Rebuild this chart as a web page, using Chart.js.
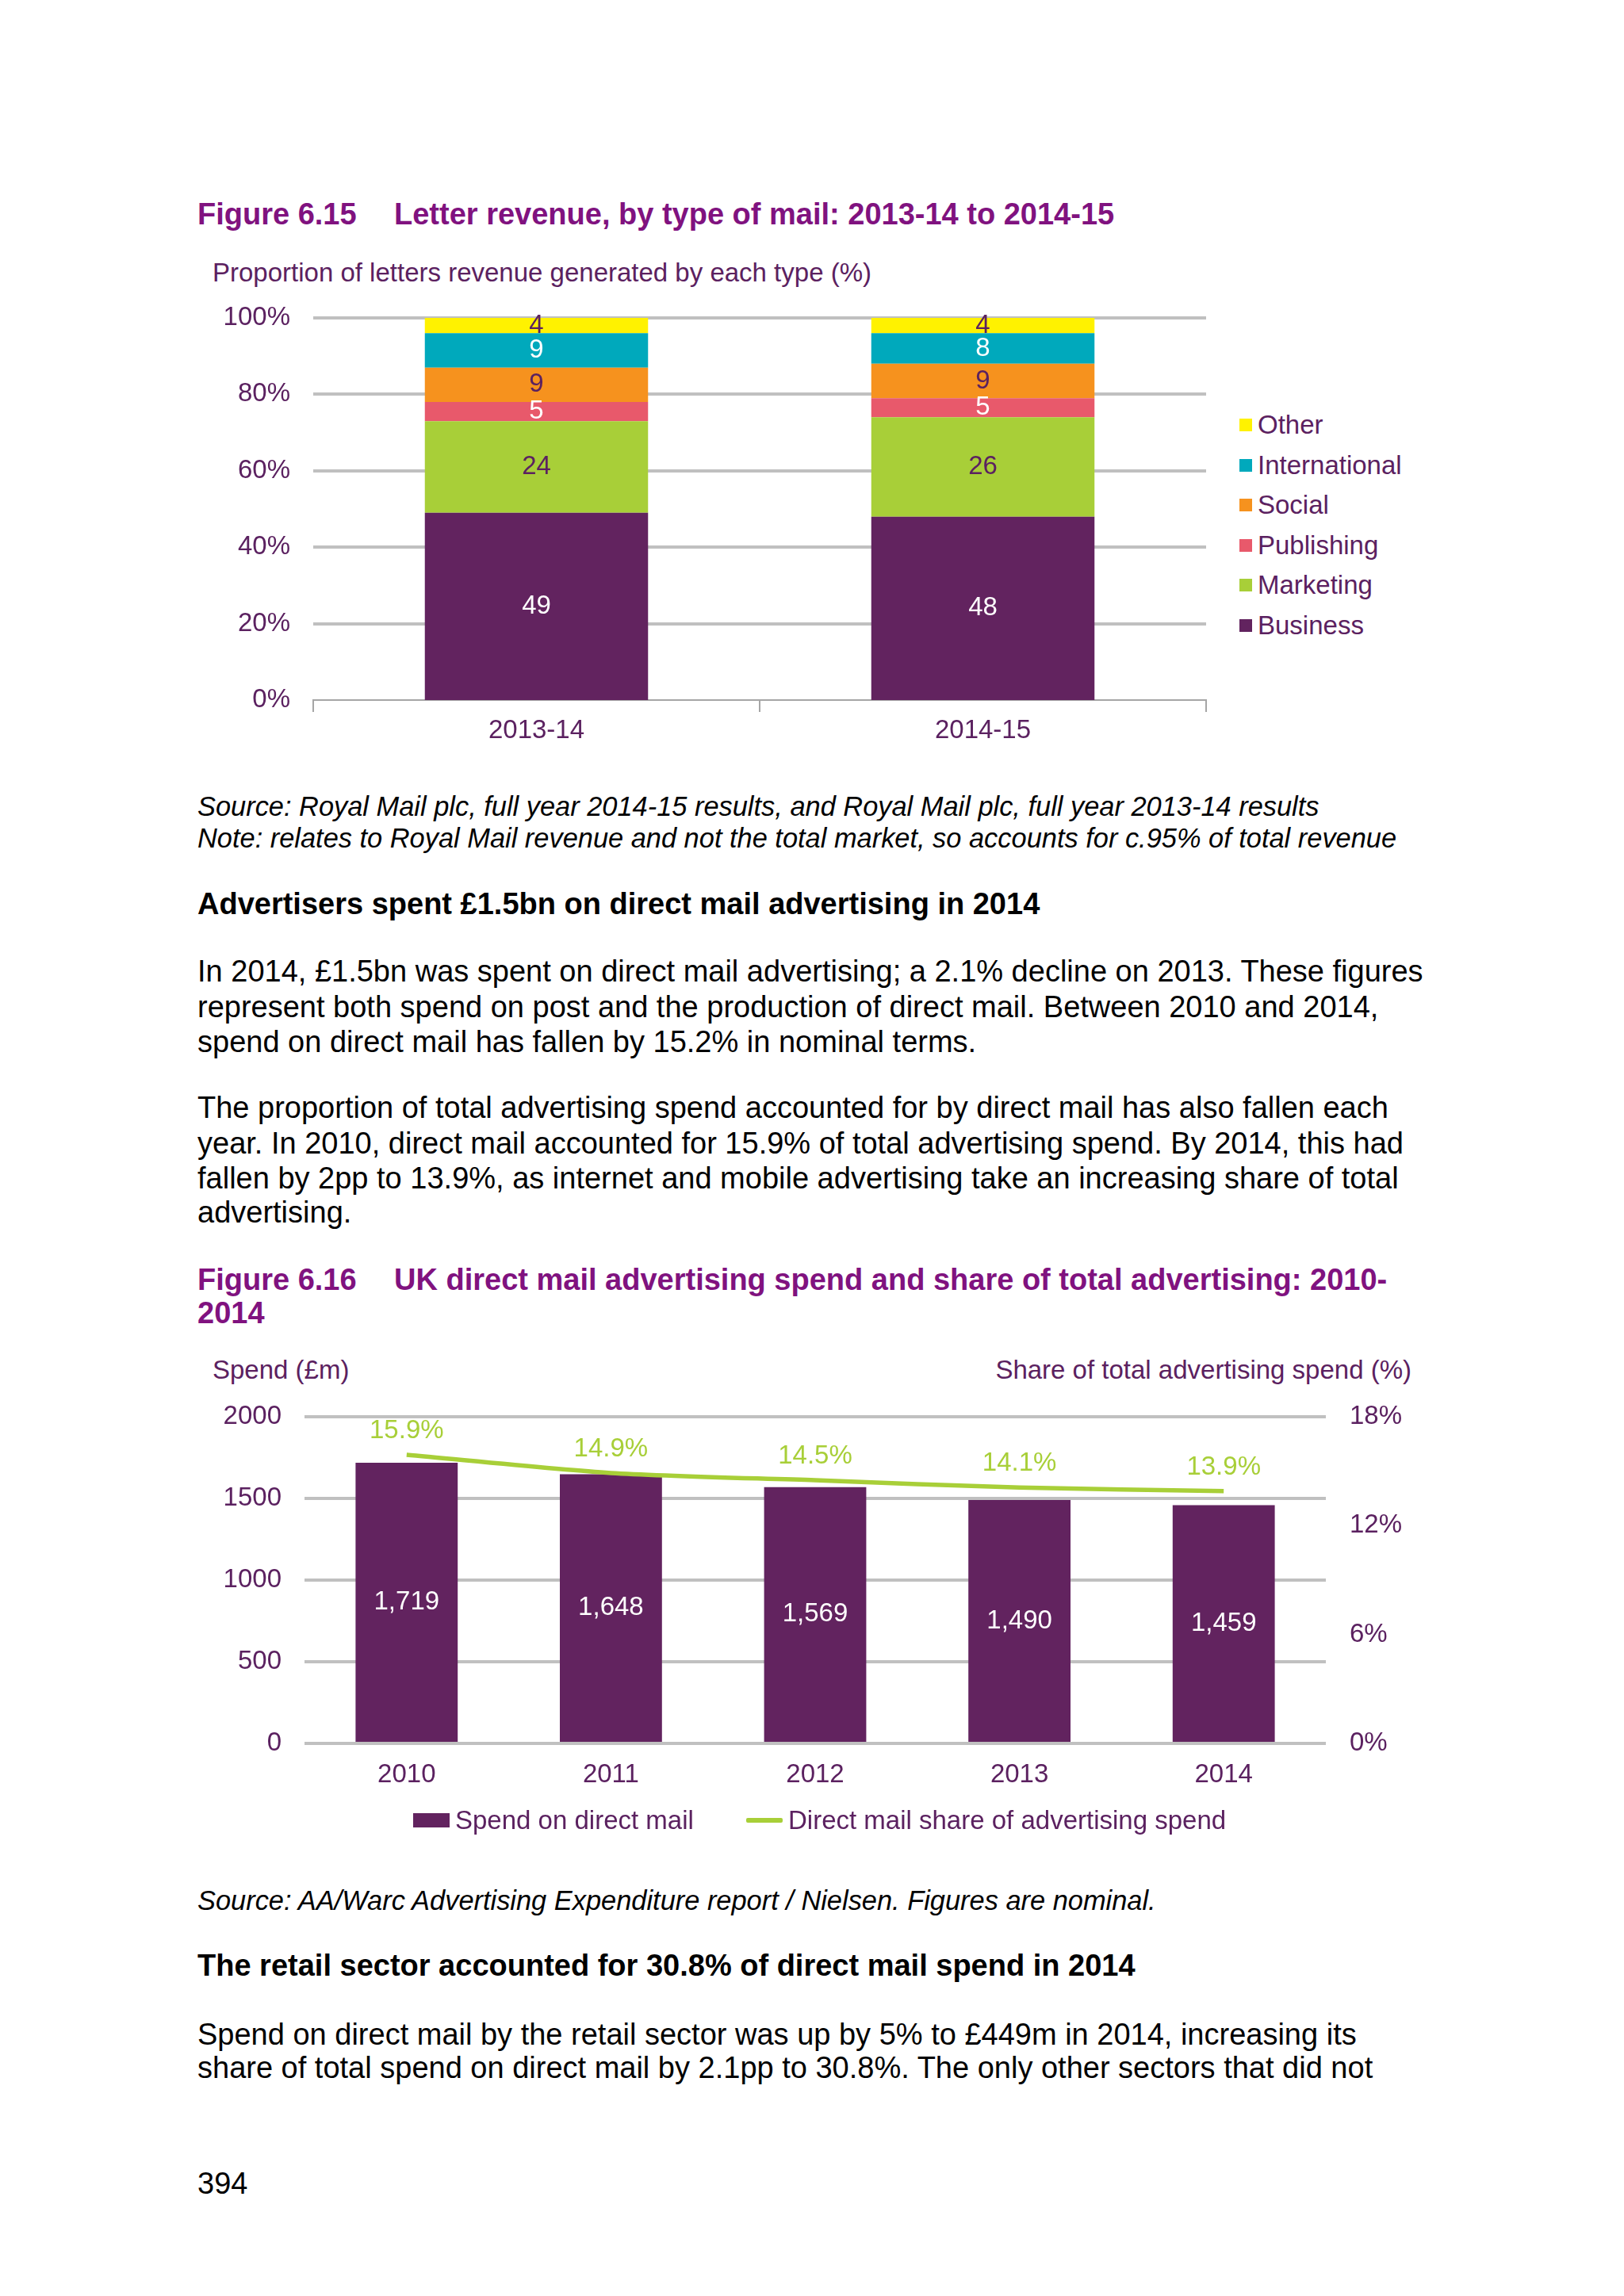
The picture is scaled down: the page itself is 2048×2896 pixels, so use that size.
<!DOCTYPE html>
<html>
<head>
<meta charset="utf-8">
<script src="https://cdn.jsdelivr.net/npm/chart.js@4.4.0/dist/chart.umd.min.js"></script>
<style>
  html, body { margin:0; padding:0; background:#fff; }
  body { width:2048px; height:2896px; position:relative; overflow:hidden; font-family:"Liberation Sans", Arial, sans-serif; }
  .t { position:absolute; left:249px; white-space:nowrap; line-height:44px; height:44px; font-size:38px; color:#000; }
  .fig { font-weight:bold; color:#80127f; }
  .sub { font-size:33px; color:#5b2160; }
  .src { font-style:italic; font-size:34.4px; }
  .b { font-weight:bold; }
  canvas { position:absolute; }
  .lg { position:absolute; font-size:33px; color:#5b2160; white-space:nowrap; line-height:44px; height:44px; }
  .sw { position:absolute; }
</style>
</head>
<body>
<div class="t fig" style="top:248px">Figure 6.15<span style="position:absolute;left:248px">Letter revenue, by type of mail: 2013-14 to 2014-15</span></div>
<div class="t sub" style="top:322px;left:268px">Proportion of letters revenue generated by each type (%)</div>
<canvas id="c1" width="1300" height="585" style="left:249px;top:375px;width:1300px;height:585px"></canvas>
<div id="lg1"></div>

<div class="t src" style="top:995px">Source: Royal Mail plc, full year 2014-15 results, and Royal Mail plc, full year 2013-14 results</div>
<div class="t src" style="top:1035px">Note: relates to Royal Mail revenue and not the total market, so accounts for c.95% of total revenue</div>
<div class="t b" style="top:1118px">Advertisers spent £1.5bn on direct mail advertising in 2014</div>
<div class="t" style="top:1203px">In 2014, £1.5bn was spent on direct mail advertising; a 2.1% decline on 2013. These figures</div>
<div class="t" style="top:1248px">represent both spend on post and the production of direct mail. Between 2010 and 2014,</div>
<div class="t" style="top:1292px">spend on direct mail has fallen by 15.2% in nominal terms.</div>
<div class="t" style="top:1375px">The proportion of total advertising spend accounted for by direct mail has also fallen each</div>
<div class="t" style="top:1420px">year. In 2010, direct mail accounted for 15.9% of total advertising spend. By 2014, this had</div>
<div class="t" style="top:1464px">fallen by 2pp to 13.9%, as internet and mobile advertising take an increasing share of total</div>
<div class="t" style="top:1507px">advertising.</div>

<div class="t fig" style="top:1592px">Figure 6.16<span style="position:absolute;left:248px">UK direct mail advertising spend and share of total advertising: 2010-</span></div>
<div class="t fig" style="top:1634px">2014</div>
<div class="t sub" style="top:1706px;left:268px">Spend (£m)</div>
<div class="t sub" style="top:1706px;left:auto;right:268px">Share of total advertising spend (%)</div>
<canvas id="c2" width="1560" height="520" style="left:249px;top:1760px;width:1560px;height:520px"></canvas>
<div id="lg2"></div>

<div class="t src" style="top:2375px">Source: AA/Warc Advertising Expenditure report / Nielsen. Figures are nominal.</div>
<div class="t b" style="top:2457px">The retail sector accounted for 30.8% of direct mail spend in 2014</div>
<div class="t" style="top:2544px">Spend on direct mail by the retail sector was up by 5% to £449m in 2014, increasing its</div>
<div class="t" style="top:2586px">share of total spend on direct mail by 2.1pp to 30.8%. The only other sectors that did not</div>
<div class="t" style="top:2732px">394</div>

<script>
// ---------- Data: Figure 6.15 ----------
const periods = ['2013-14', '2014-15'];
const business = [49, 48];
const marketing = [24, 26];
const publishing = [5, 5];
const social = [9, 9];
const international = [9, 8];
const other = [4, 4];

// ---------- Data: Figure 6.16 ----------
const years = ['2010', '2011', '2012', '2013', '2014'];
const spend = [1719, 1648, 1569, 1490, 1459];
const share = [15.9, 14.9, 14.5, 14.1, 13.9];

const FONT = '"Liberation Sans", Arial, sans-serif';
const TXT = '#5b2160';
const GRID = '#c0c0c0';
const PURPLE = '#62235f';
const GREEN = '#a8cf38';

Chart.defaults.font.family = FONT;
Chart.defaults.color = TXT;

const segLabels = {
  id: 'segLabels',
  afterDatasetsDraw(chart) {
    const ctx = chart.ctx;
    ctx.save();
    ctx.font = '33px ' + FONT;
    ctx.textAlign = 'center';
    ctx.textBaseline = 'middle';
    chart.data.datasets.forEach((ds, i) => {
      const meta = chart.getDatasetMeta(i);
      if (meta.type !== 'bar' || !ds.valueColor) return;
      meta.data.forEach((el, j) => {
        ctx.fillStyle = ds.valueColor;
        const v = ds.data[j];
        const txt = ds.fmt ? ds.fmt(v) : String(v);
        ctx.fillText(txt, el.x, (el.y + el.base) / 2);
      });
    });
    ctx.restore();
  }
};

const lineLabels = {
  id: 'lineLabels',
  afterDatasetsDraw(chart) {
    const ctx = chart.ctx;
    ctx.save();
    ctx.font = '33px ' + FONT;
    ctx.textAlign = 'center';
    ctx.textBaseline = 'middle';
    chart.data.datasets.forEach((ds, i) => {
      const meta = chart.getDatasetMeta(i);
      if (meta.type !== 'line') return;
      meta.data.forEach((el, j) => {
        ctx.fillStyle = GREEN;
        ctx.fillText(ds.data[j].toFixed(1) + '%', el.x, el.y - 30);
      });
    });
    ctx.restore();
  }
};

const vFit = w => s => { s.width = w; s.paddingTop = 0; s.paddingBottom = 0; };

const c1 = new Chart(document.getElementById('c1'), {
  type: 'bar',
  data: {
    labels: periods,
    datasets: [
      { label: 'Business', data: business, backgroundColor: '#62235f', valueColor: '#ffffff' },
      { label: 'Marketing', data: marketing, backgroundColor: '#a8cf38', valueColor: TXT },
      { label: 'Publishing', data: publishing, backgroundColor: '#e8596b', valueColor: '#ffffff' },
      { label: 'Social', data: social, backgroundColor: '#f6921e', valueColor: TXT },
      { label: 'International', data: international, backgroundColor: '#00a9bc', valueColor: '#ffffff' },
      { label: 'Other', data: other, backgroundColor: '#fff200', valueColor: TXT }
    ]
  },
  options: {
    responsive: false,
    animation: false,
    devicePixelRatio: 1,
    layout: { padding: { top: 26, right: 28, bottom: 17, left: 0 } },
    plugins: { legend: { display: false }, tooltip: { enabled: false } },
    datasets: { bar: { categoryPercentage: 1, barPercentage: 0.5 } },
    scales: {
      x: {
        stacked: true,
        afterFit: s => { s.height = 60; },
        grid: { drawOnChartArea: false, drawTicks: true, tickLength: 15, color: '#a6a6a6', lineWidth: 2, offset: true },
        border: { color: '#a6a6a6', width: 2 },
        ticks: { font: { size: 33 }, color: TXT, padding: 4 }
      },
      y: {
        stacked: true,
        min: 0, max: 100,
        afterFit: vFit(146),
        grid: { color: GRID, lineWidth: c => (c.tick && c.tick.value === 0 ? 0 : 4), drawTicks: false },
        border: { display: false },
        ticks: { stepSize: 20, font: { size: 33 }, color: TXT, padding: 29, callback: v => v + '%' }
      }
    }
  },
  plugins: [segLabels]
});

// HTML legend for chart 1, built from the chart's datasets (top item = last dataset)
(function () {
  const box = document.getElementById('lg1');
  const ds = c1.data.datasets.slice().reverse();
  ds.forEach((d, i) => {
    const cy = 536 + i * 50.6;
    const sw = document.createElement('div');
    sw.className = 'sw';
    sw.style.cssText = `left:1563px;top:${cy - 8}px;width:16px;height:16px;background:${d.backgroundColor}`;
    box.appendChild(sw);
    const tx = document.createElement('div');
    tx.className = 'lg';
    tx.style.cssText += `left:1586px;top:${cy - 22}px`;
    tx.textContent = d.label;
    box.appendChild(tx);
  });
})();

const c2 = new Chart(document.getElementById('c2'), {
  type: 'bar',
  data: {
    labels: years,
    datasets: [
      { type: 'bar', label: 'Spend on direct mail', data: spend, backgroundColor: PURPLE, yAxisID: 'y', order: 2,
        valueColor: '#ffffff', fmt: v => v.toLocaleString('en-GB'), categoryPercentage: 1, barPercentage: 0.5 },
      { type: 'line', label: 'Direct mail share of advertising spend', data: share, borderColor: GREEN, backgroundColor: GREEN,
        borderWidth: 5.5, pointRadius: 0, tension: 0.25, yAxisID: 'y2', order: 1 }
    ]
  },
  options: {
    responsive: false,
    animation: false,
    devicePixelRatio: 1,
    layout: { padding: { top: 27, right: 0, bottom: 21, left: 0 } },
    plugins: { legend: { display: false }, tooltip: { enabled: false } },
    scales: {
      x: {
        afterFit: s => { s.height = 60; },
        grid: { display: false, drawTicks: false },
        border: { display: false },
        ticks: { font: { size: 33 }, color: TXT, padding: 20 }
      },
      y: {
        position: 'left',
        min: 0, max: 2000,
        afterFit: vFit(135),
        grid: { color: GRID, lineWidth: 4, drawTicks: false },
        border: { display: false },
        ticks: { stepSize: 500, font: { size: 33 }, color: TXT, padding: 29, callback: v => String(v) }
      },
      y2: {
        position: 'right',
        min: 0, max: 18,
        afterFit: vFit(137),
        grid: { drawOnChartArea: false, drawTicks: false },
        border: { display: false },
        ticks: { stepSize: 6, font: { size: 33 }, color: TXT, padding: 30, callback: v => v + '%' }
      }
    }
  },
  plugins: [segLabels, lineLabels]
});

// HTML legend for chart 2, built from datasets
(function () {
  const box = document.getElementById('lg2');
  const cy = 2296;
  const spec = [
    { sx: 521, tx: 574 },
    { sx: 941, tx: 994 }
  ];
  c2.data.datasets.forEach((d, i) => {
    const sw = document.createElement('div');
    sw.className = 'sw';
    if (d.type === 'line') {
      sw.style.cssText = `left:${spec[i].sx}px;top:${cy - 3}px;width:46px;height:6px;background:${d.borderColor};border-radius:2px`;
    } else {
      sw.style.cssText = `left:${spec[i].sx}px;top:${cy - 9}px;width:46px;height:18px;background:${d.backgroundColor}`;
    }
    box.appendChild(sw);
    const tx = document.createElement('div');
    tx.className = 'lg';
    tx.style.cssText += `left:${spec[i].tx}px;top:${cy - 22}px`;
    tx.textContent = d.label;
    box.appendChild(tx);
  });
})();
</script>
</body>
</html>
